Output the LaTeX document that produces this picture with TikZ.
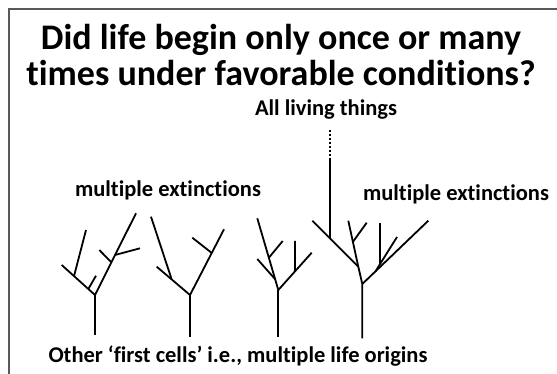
\documentclass[tikz,border=0pt]{standalone}
\usepackage{fontspec}
\setmainfont{Carlito}[Ligatures=NoCommon]
\usetikzlibrary{calc}
\tikzset{
  heading/.style = {
    font=\fontsize{36}{36}\selectfont\bfseries, inner sep=0pt, anchor=base
  },
  caption/.style = {
    font=\fontsize{22.5}{24}\selectfont\bfseries, inner sep=0pt, anchor=base
  },
  branch/.style = { draw=black, line width=1.8pt },
  ancestry/.style = { draw=black, line width=1.8pt, dash pattern=on 2pt off 2pt },
  frameline/.style = { draw=black!65, line width=1.4pt }
}

\begin{document}
\begin{tikzpicture}[x=1pt, y=-1pt]

    \useasboundingbox (0,0) rectangle (557,374);

    % ------------------------------------------------------------- Frame
    \coordinate (fr_tl) at (9, 9);
    \coordinate (fr_tr) at (557, 9);
    \coordinate (fr_bl) at (9, 374);
    \draw [frameline] (fr_bl) -- (fr_tl) -- (fr_tr);

    % ------------------------------------------------------------- Texts
    \node [heading] (title1) at (281, 50) {Did life begin only once or many};
    \node [heading] (title2) at (281, 86) {times under favorable conditions?};
    \node [caption] (living)  at (326, 116) {All living things};
    \node [caption] (ext_l)   at (168, 197) {multiple extinctions};
    \node [caption] (ext_r)   at (456, 201) {multiple extinctions};
    \node [caption] (origins) at (238, 362) {Other ‘first cells’ i.e., multiple life origins};

    % ------------------------------------------------------------- Tree 1
    \coordinate (t1_base) at (95, 335);
    \coordinate (t1_fork) at (95, 295);
    \coordinate (t1_l)    at (61.7, 265);
    \coordinate (t1_r)    at (136, 213.3);
    \coordinate (t1_la)   at ($(t1_fork)!0.63!(t1_l)$);
    \coordinate (t1_la_tip) at (86, 230);
    \coordinate (t1_lb)   at ($(t1_fork)!0.2!(t1_l)$);
    \coordinate (t1_lb_tip) at (96, 275.7);
    \coordinate (t1_ra)   at ($(t1_fork)!0.4!(t1_r)$);
    \coordinate (t1_ra_tip) at (99.3, 250);
    \coordinate (t1_rb)   at ($(t1_fork)!0.49!(t1_r)$);
    \coordinate (t1_rb_tip) at (140, 248.3);

    % ------------------------------------------------------------- Tree 2
    \coordinate (t2_base) at (190, 336.7);
    \coordinate (t2_fork) at (190, 295);
    \coordinate (t2_l)    at (156.7, 266.7);
    \coordinate (t2_r)    at (224, 229.3);
    \coordinate (t2_la)   at ($(t2_fork)!0.55!(t2_l)$);
    \coordinate (t2_la_tip) at (151, 216.7);
    \coordinate (t2_ra)   at ($(t2_fork)!0.64!(t2_r)$);
    \coordinate (t2_ra_tip) at (192.3, 237.7);

    % ------------------------------------------------------------- Tree 3
    \coordinate (t3_base) at (278.3, 336.7);
    \coordinate (t3_fork) at (278.3, 290);
    \coordinate (t3_l)    at (257.3, 218.3);
    \coordinate (t3_r)    at (311.7, 252.7);
    \coordinate (t3_la)   at ($(t3_fork)!0.15!(t3_l)$);
    \coordinate (t3_la_tip) at (257.3, 259);
    \coordinate (t3_lb)   at ($(t3_fork)!0.45!(t3_l)$);
    \coordinate (t3_lb_tip) at (282.7, 241);
    \coordinate (t3_ra)   at ($(t3_fork)!0.5!(t3_r)$);
    \coordinate (t3_ra_tip) at (295, 241);

    % ------------------------------------------------------------- Tree 4
    \coordinate (t4_base) at (362.3, 338.3);
    \coordinate (t4_fork) at (362.3, 284);
    \coordinate (t4_mid)  at (358.3, 266.7);
    \coordinate (t4_l)    at (312.3, 220.7);
    \coordinate (t4_up)   at (348.3, 220.7);
    \coordinate (t4_r)    at (428.3, 220.7);
    \coordinate (t4_stem) at ($(t4_mid)!0.615!(t4_l)$);
    \coordinate (t4_stem_top) at (330, 160);
    \coordinate (t4_dot_top)  at (330, 129);
    \coordinate (t4_ua)   at ($(t4_mid)!0.54!(t4_up)$);
    \coordinate (t4_ua_tip) at (366.7, 222.7);
    \coordinate (t4_ra)   at ($(t4_fork)!0.2!(t4_r)$);
    \coordinate (t4_ra_tip) at (397, 237);
    \coordinate (t4_rb)   at ($(t4_ra)!0.2!(t4_ra_tip)$);
    \coordinate (t4_rb_tip) at ($(t4_rb |- 0,222.7)$);

    % ------------------------------------------------------------- Branches
    % -------- tree 1
    \draw [branch] (t1_base) -- (t1_fork);
    \draw [branch] (t1_fork) -- (t1_l);
    \draw [branch] (t1_fork) -- (t1_r);
    \draw [branch] (t1_la) -- (t1_la_tip);
    \draw [branch] (t1_lb) -- (t1_lb_tip);
    \draw [branch] (t1_ra) -- (t1_ra_tip);
    \draw [branch] (t1_rb) -- (t1_rb_tip);

    % -------- tree 2
    \draw [branch] (t2_base) -- (t2_fork);
    \draw [branch] (t2_fork) -- (t2_l);
    \draw [branch] (t2_fork) -- (t2_r);
    \draw [branch] (t2_la) -- (t2_la_tip);
    \draw [branch] (t2_ra) -- (t2_ra_tip);

    % -------- tree 3
    \draw [branch] (t3_base) -- (t3_fork);
    \draw [branch] (t3_fork) -- (t3_l);
    \draw [branch] (t3_fork) -- (t3_r);
    \draw [branch] (t3_la) -- (t3_la_tip);
    \draw [branch] (t3_lb) -- (t3_lb_tip);
    \draw [branch] (t3_ra) -- (t3_ra_tip);

    % -------- tree 4
    \draw [branch] (t4_base) -- (t4_fork) -- (t4_mid);
    \draw [branch] (t4_mid) -- (t4_l);
    \draw [branch] (t4_mid) -- (t4_up);
    \draw [branch] (t4_fork) -- (t4_r);
    \draw [branch] (t4_ua) -- (t4_ua_tip);
    \draw [branch] (t4_ra) -- (t4_ra_tip);
    \draw [branch] (t4_rb) -- (t4_rb_tip);
    \draw [branch] (t4_stem) -- (t4_stem_top);
    \draw [ancestry] (t4_stem_top) -- (t4_dot_top);

  \end{tikzpicture}
\end{document}
